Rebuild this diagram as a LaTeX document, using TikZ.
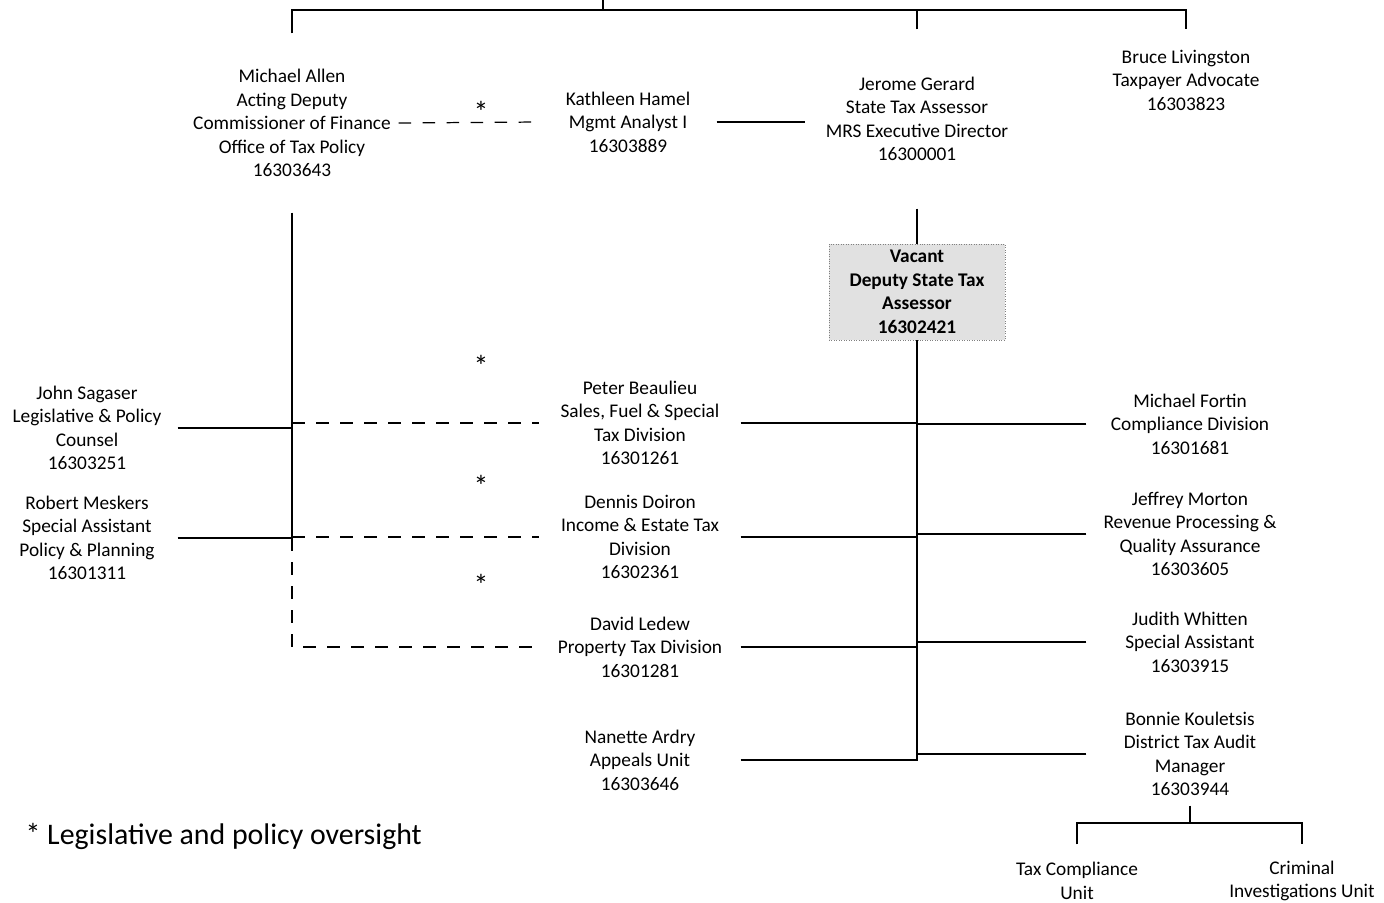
\documentclass[tikz,border=0pt]{standalone}
\usepackage{fontspec}
\setmainfont{Carlito}
\usetikzlibrary{positioning,calc}
\definecolor{vacantgray}{RGB}{225,225,225}

\begin{document}
\begin{tikzpicture}[x=0.2mm,y=-0.2mm,line width=0.7pt,
  staff/.style={align=center,inner sep=0pt,font=\fontsize{11}{13.4}\selectfont},
  oversight/.style={dash pattern=on 2.5mm off 2.3mm},
  vacantbox/.style={staff,draw=gray,densely dotted,thin,fill=vacantgray,font=\bfseries\fontsize{11}{13.4}\selectfont}]
\useasboundingbox (0,0) rectangle (1384,903);
% top row
\node[staff,minimum width=42.4mm,minimum height=35.6mm] (allen) at (292,123) {Michael Allen\\Acting Deputy\\Commissioner of Finance\\Office of Tax Policy\\16303643};
\node[staff,minimum width=35.2mm] (hamel) at (628,122) {Kathleen Hamel\\Mgmt Analyst I\\16303889};
\node[staff,minimum width=44.4mm,minimum height=35.6mm] (gerard) at (917,119) {Jerome Gerard\\State Tax Assessor\\MRS Executive Director\\16300001};
\node[staff,minimum width=36mm,minimum height=20mm] (bruce) at (1186,80) {Bruce Livingston\\Taxpayer Advocate\\16303823};
\node[vacantbox,minimum width=35.2mm,minimum height=19.2mm] (vacant) at (917,292) {Vacant\\Deputy State Tax\\Assessor\\16302421};
% left column
\node[staff,minimum width=36mm] (sagaser) at (87,428) {John Sagaser\\Legislative \& Policy\\Counsel\\16303251};
\node[staff,minimum width=36mm] (meskers) at (87,538) {Robert Meskers\\Special Assistant\\Policy \& Planning\\16301311};
% middle column
\node[staff,minimum width=40mm] (beaulieu) at (640,423) {Peter Beaulieu\\Sales, Fuel \& Special\\Tax Division\\16301261};
\node[staff,minimum width=40mm] (doiron) at (640,537) {Dennis Doiron\\Income \& Estate Tax\\Division\\16302361};
\node[staff,minimum width=40mm] (ledew) at (640,647) {David Ledew\\Property Tax Division\\16301281};
\node[staff,minimum width=40mm] (ardry) at (640,760) {Nanette Ardry\\Appeals Unit\\16303646};
% right column
\node[staff,minimum width=41.2mm] (fortin) at (1190,424) {Michael Fortin\\Compliance Division\\16301681};
\node[staff,minimum width=41.2mm] (morton) at (1190,534) {Jeffrey Morton\\Revenue Processing \&\\Quality Assurance\\16303605};
\node[staff,minimum width=41.2mm] (whitten) at (1190,642) {Judith Whitten\\Special Assistant\\16303915};
\node[staff,minimum width=41.2mm,minimum height=20.4mm] (kouletsis) at (1190,754) {Bonnie Kouletsis\\District Tax Audit\\Manager\\16303944};
\node[staff,minimum height=14.4mm] (taxcomp) at (1077,881) {Tax Compliance\\Unit};
\node[staff,minimum height=14.4mm] (criminal) at (1302,881) {Criminal\\Investigations Unit};
% oversight marks
\foreach \n/\y in {1/112,2/366,3/486,4/585}
  \node[inner sep=0pt,font=\fontsize{17}{18}\selectfont] (star\n) at (481,\y) {*};
\node[anchor=west,inner sep=0pt,font=\fontsize{17}{20}\selectfont] (note) at (25,836) {* Legislative and policy oversight};

% connectors
\coordinate (apex) at (603,0);
\coordinate (bar) at (603,10);
\draw (apex) -- (bar);
\draw (allen.north) |- (bar) -| (bruce.north);
\draw (gerard.north) -- (gerard.north |- bar);
\draw[oversight] (allen.east) -- (hamel.west);
\draw (hamel.east) -- (hamel.east -| gerard.west);
\draw (gerard.south) -- (vacant.north);
\draw (ardry.east) -| (vacant.south);
\foreach \n in {beaulieu,doiron,ledew}
  \draw (\n.east) -- (\n.east -| vacant.south);
\foreach \n in {fortin,morton,whitten,kouletsis}
  \draw (\n.west) -- (\n.west -| vacant.south);
\draw (allen.south) -- (allen.south |- meskers.east);
\draw[oversight] (allen.south |- meskers.east) |- (ledew.west);
\foreach \a/\b in {sagaser/beaulieu,meskers/doiron}{
  \draw (\a.east) -- (\a.east -| allen.south);
  \draw[oversight] (\b.west -| allen.south) -- (\b.west);}
\coordinate (unitbar) at (1190,823);
\draw (kouletsis.south) -- (unitbar);
\draw (taxcomp.north) |- (unitbar) -| (criminal.north);
\end{tikzpicture}
\end{document}
